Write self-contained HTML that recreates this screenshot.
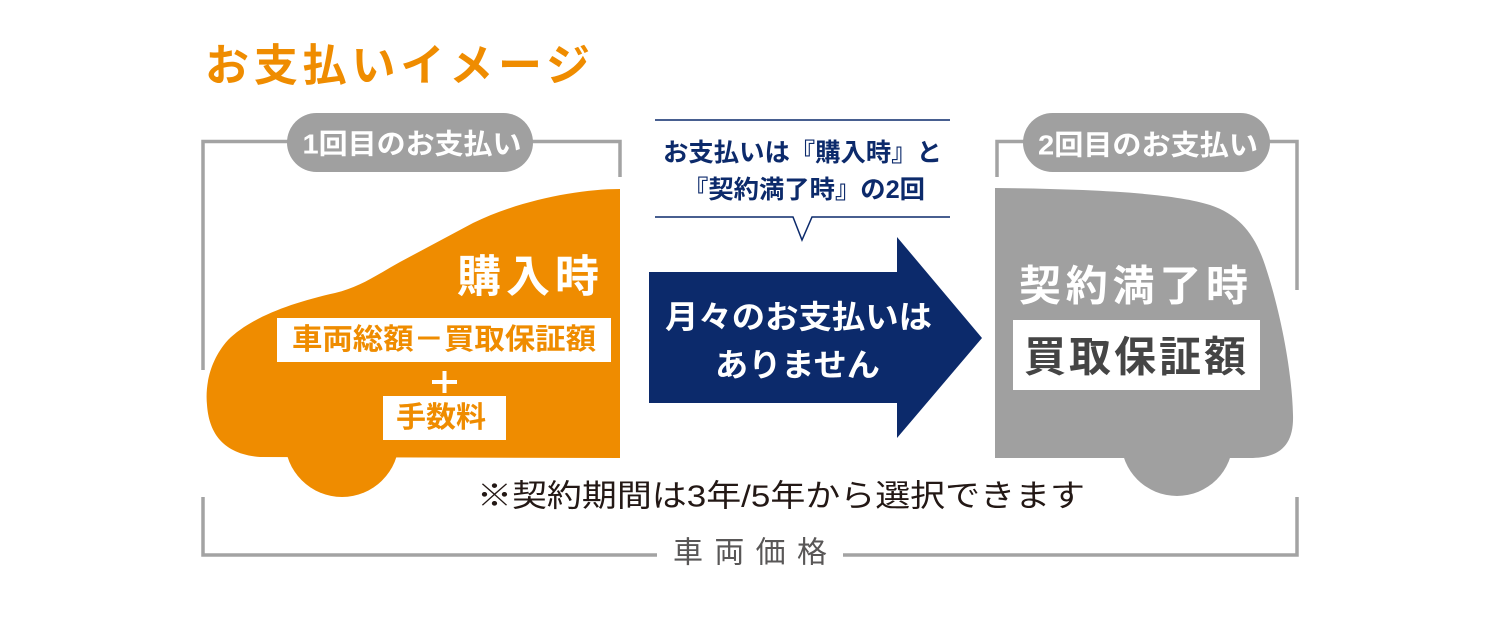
<!DOCTYPE html>
<html><head><meta charset="utf-8"><style>
html,body{margin:0;padding:0;background:#fff;}
svg{display:block;}
text{font-family:"Liberation Sans","Noto Sans CJK JP",sans-serif;}
</style></head><body>
<svg width="1500" height="644" viewBox="0 0 1500 644" xmlns="http://www.w3.org/2000/svg">
<!-- title -->
<text x="205" y="66" font-size="44" font-weight="bold" fill="#ef8c00" dominant-baseline="central" textLength="385" lengthAdjust="spacing">お支払いイメージ</text>

<!-- left bracket -->
<polyline points="203,370 203,141.5 290,141.5" fill="none" stroke="#a3a3a3" stroke-width="3.5"/>
<polyline points="530,141.5 620,141.5 620,177" fill="none" stroke="#a3a3a3" stroke-width="3.5"/>
<rect x="287" y="113" width="246" height="59" rx="29.5" fill="#a0a0a0"/>
<text x="412" y="144" font-size="28" font-weight="bold" fill="#fff" text-anchor="middle" dominant-baseline="central" textLength="219" lengthAdjust="spacingAndGlyphs">1回目のお支払い</text>

<!-- right bracket -->
<polyline points="997,177 997,141.5 1026,141.5" fill="none" stroke="#a3a3a3" stroke-width="3.5"/>
<polyline points="1266,141.5 1297,141.5 1297,290" fill="none" stroke="#a3a3a3" stroke-width="3.5"/>
<rect x="1023" y="113" width="247" height="59" rx="29.5" fill="#a0a0a0"/>
<text x="1148" y="145" font-size="28" font-weight="bold" fill="#fff" text-anchor="middle" dominant-baseline="central" textLength="220" lengthAdjust="spacingAndGlyphs">2回目のお支払い</text>

<!-- orange car -->
<path d="M620,189 C580,189 520,200 473,223 L400,262 C375,276 360,287 335,293 C290,303 250,318 228,340 C210,360 205,385 207,405 C209,432 222,454 260,457 L620,458 Z" fill="#ef8c00"/>
<circle cx="342" cy="440" r="57" fill="#ef8c00"/>
<text x="457" y="277" font-size="44" font-weight="bold" fill="#fff" dominant-baseline="central" textLength="142" lengthAdjust="spacing">購入時</text>
<rect x="277" y="318" width="334" height="44" fill="#fff"/>
<text x="292" y="340" font-size="29" font-weight="bold" fill="#ef8c00" dominant-baseline="central" textLength="304" lengthAdjust="spacingAndGlyphs">車両総額－買取保証額</text>
<rect x="432" y="380" width="25" height="4" fill="#fff"/>
<rect x="442.5" y="371" width="4" height="22" fill="#fff"/>
<rect x="383" y="396" width="123" height="44" fill="#fff"/>
<text x="396" y="418" font-size="29" font-weight="bold" fill="#ef8c00" dominant-baseline="central" textLength="90" lengthAdjust="spacingAndGlyphs">手数料</text>

<!-- gray car -->
<path d="M995,188 C1080,189 1170,192 1210,205 C1240,215 1255,235 1265,265 C1280,310 1292,370 1293,415 C1294,445 1280,458 1250,458 L995,458 Z" fill="#a0a0a0"/>
<circle cx="1177" cy="440" r="56" fill="#a0a0a0"/>
<text x="1019" y="286" font-size="42" font-weight="bold" fill="#fff" dominant-baseline="central" textLength="229" lengthAdjust="spacing">契約満了時</text>
<rect x="1013" y="320" width="247" height="70" fill="#fff"/>
<text x="1024" y="357" font-size="42" font-weight="bold" fill="#454545" dominant-baseline="central" textLength="222" lengthAdjust="spacing">買取保証額</text>

<!-- callout -->
<line x1="655" y1="120" x2="950" y2="120" stroke="#0c2a6b" stroke-width="1.5"/>
<polyline points="655,217 793,217 802,240 812,217 950,217" fill="none" stroke="#0c2a6b" stroke-width="1.5"/>
<text x="663" y="153" font-size="25" font-weight="bold" fill="#0c2a6b" dominant-baseline="central" textLength="279" lengthAdjust="spacingAndGlyphs">お支払いは『購入時』と</text>
<text x="683" y="190" font-size="25" font-weight="bold" fill="#0c2a6b" dominant-baseline="central" textLength="242" lengthAdjust="spacingAndGlyphs">『契約満了時』の2回</text>

<!-- arrow -->
<polygon points="649,272 897,272 897,237 982,338 897,438 897,403 649,403" fill="#0c2a6b"/>
<text x="665" y="317" font-size="32" font-weight="bold" fill="#fff" dominant-baseline="central" textLength="267" lengthAdjust="spacingAndGlyphs">月々のお支払いは</text>
<text x="715" y="365" font-size="32" font-weight="bold" fill="#fff" dominant-baseline="central" textLength="165" lengthAdjust="spacingAndGlyphs">ありません</text>

<!-- note -->
<text x="477" y="496" font-size="31" fill="#231815" dominant-baseline="central" textLength="608" lengthAdjust="spacingAndGlyphs">※契約期間は3年/5年から選択できます</text>

<!-- bottom bracket -->
<polyline points="203,497 203,555 657,555" fill="none" stroke="#a3a3a3" stroke-width="3.5"/>
<polyline points="843,555 1297,555 1297,497" fill="none" stroke="#a3a3a3" stroke-width="3.5"/>
<text x="673" y="553" font-size="30" fill="#595757" dominant-baseline="central" textLength="154" lengthAdjust="spacing">車両価格</text>
</svg>
</body></html>
